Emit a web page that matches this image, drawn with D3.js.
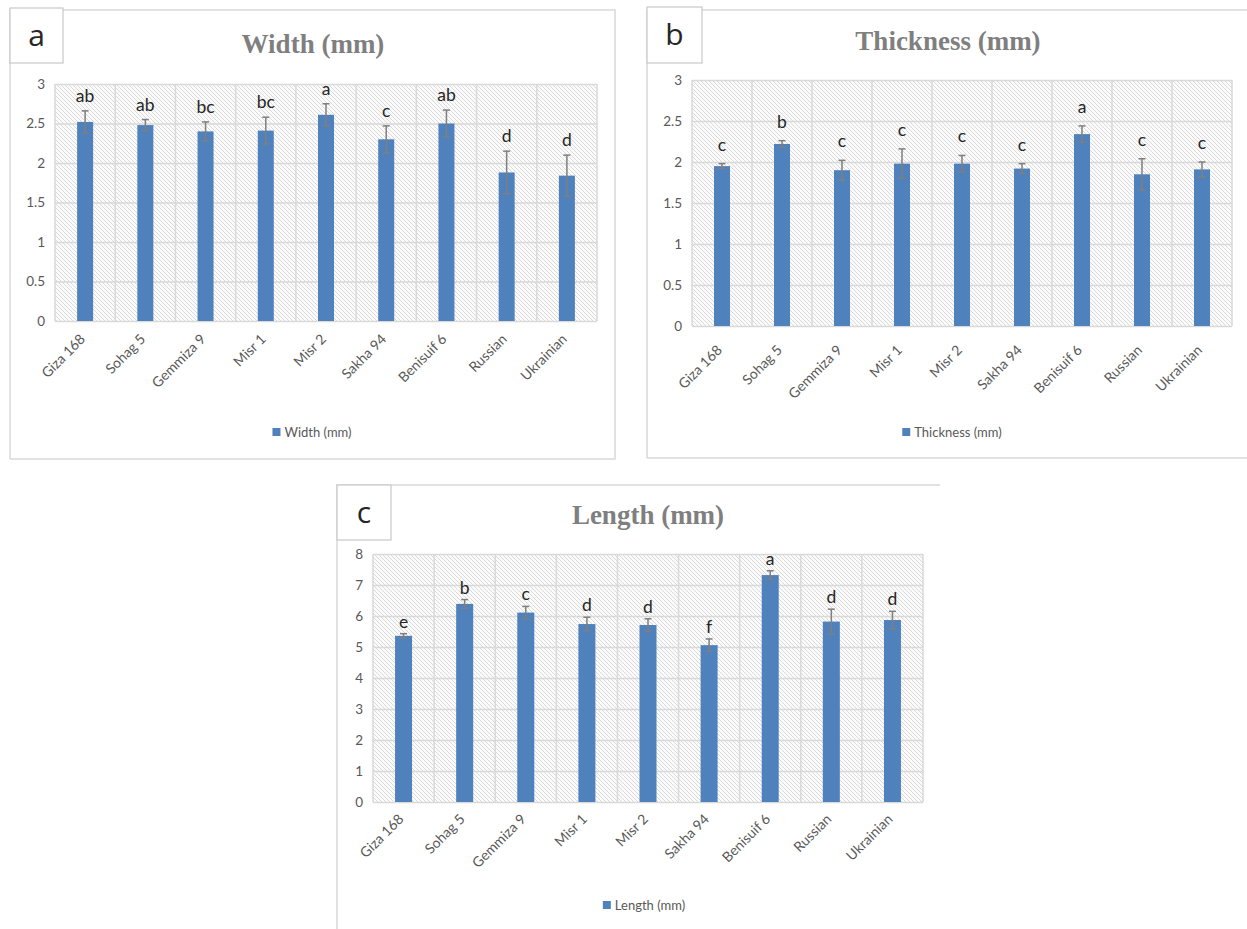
<!DOCTYPE html>
<html>
<head>
<meta charset="utf-8">
<script src="https://cdn.jsdelivr.net/npm/d3@7/dist/d3.min.js"></script>
<style>
  html, body { margin: 0; padding: 0; background: #ffffff; }
  svg { display: block; }
</style>
</head>
<body>
<svg id="chart" width="1247" height="929"></svg>
<script>
// Grain dimensions of nine wheat cultivars (mean ± error), with letter groupings
const categories = ["Giza 168", "Sohag 5", "Gemmiza 9", "Misr 1", "Misr 2", "Sakha 94", "Benisuif 6", "Russian", "Ukrainian"];

const widthMeans   = [2.52, 2.48, 2.40, 2.41, 2.61, 2.30, 2.50, 1.88, 1.84];
const widthErrors  = [0.14, 0.07, 0.12, 0.17, 0.14, 0.17, 0.17, 0.27, 0.26];
const widthLetters = ["ab", "ab", "bc", "bc", "a", "c", "ab", "d", "d"];

const thicknessMeans   = [1.95, 2.22, 1.90, 1.98, 1.98, 1.92, 2.34, 1.85, 1.91];
const thicknessErrors  = [0.03, 0.04, 0.12, 0.18, 0.10, 0.06, 0.10, 0.19, 0.09];
const thicknessLetters = ["c", "b", "c", "c", "c", "c", "a", "c", "c"];

const lengthMeans   = [5.36, 6.39, 6.11, 5.74, 5.71, 5.06, 7.32, 5.82, 5.87];
const lengthErrors  = [0.07, 0.14, 0.20, 0.22, 0.20, 0.20, 0.14, 0.40, 0.28];
const lengthLetters = ["e", "b", "c", "d", "d", "f", "a", "d", "d"];

const widthTicks     = [0, 0.5, 1, 1.5, 2, 2.5, 3];
const thicknessTicks = [0, 0.5, 1, 1.5, 2, 2.5, 3];
const lengthTicks    = [0, 1, 2, 3, 4, 5, 6, 7, 8];

const BAR = "#4f81bd";
const GRID = "#d9d9d9";
const AXIS_TEXT = "#595959";
const SANS = "Lato, 'Open Sans', sans-serif";
const SERIF = "'Liberation Serif', 'DejaVu Serif', serif";

const panels = [
  {
    tag: "a", title: "Width (mm)", means: widthMeans, errors: widthErrors, letters: widthLetters, ticks: widthTicks,
    frame: { x: 10, y: 10, w: 605, h: 449, right: true, bottom: true },
    tagBox: { x: 10, y: 8, w: 53, h: 55 },
    plot: { x0: 55, x1: 597, y0: 84, y1: 321 },
    titlePos: [313, 53], legendPos: [312, 437], letterGap: 15, labelDrop: 19
  },
  {
    tag: "b", title: "Thickness (mm)", means: thicknessMeans, errors: thicknessErrors, letters: thicknessLetters, ticks: thicknessTicks,
    frame: { x: 647, y: 10, w: 605, h: 448, right: false, bottom: true },
    tagBox: { x: 647, y: 7, w: 55, h: 56 },
    plot: { x0: 692, x1: 1232, y0: 80, y1: 326 },
    titlePos: [948, 50], legendPos: [952, 437], letterGap: 19, labelDrop: 25
  },
  {
    tag: "c", title: "Length (mm)", means: lengthMeans, errors: lengthErrors, letters: lengthLetters, ticks: lengthTicks,
    frame: { x: 337, y: 485, w: 603, h: 460, right: false, bottom: false },
    tagBox: { x: 337, y: 485, w: 54, h: 55 },
    plot: { x0: 373, x1: 923, y0: 554, y1: 802 },
    titlePos: [648, 524], legendPos: [644, 910], letterGap: 12, labelDrop: 18
  }
];

const svg = d3.select("#chart");
const defs = svg.append("defs");

// fine diagonal hatching used as the plot-area fill
const pat = defs.append("pattern")
  .attr("id", "hatch")
  .attr("patternUnits", "userSpaceOnUse")
  .attr("width", 4).attr("height", 4);
pat.append("rect").attr("width", 4).attr("height", 4).attr("fill", "#fbfbfb");
pat.append("path")
  .attr("d", "M-1,-1 L5,5 M-1,3 L1,5 M3,-1 L5,1")
  .attr("stroke", "#d2d2d2").attr("stroke-width", 0.8);

panels.forEach(p => {
  const g = svg.append("g");
  const f = p.frame;

  // chart frame
  const framePath = d3.path();
  framePath.moveTo(f.x, f.y + f.h);
  framePath.lineTo(f.x, f.y);
  framePath.lineTo(f.x + f.w, f.y);
  if (f.right) framePath.lineTo(f.x + f.w, f.y + f.h);
  if (f.bottom) {
    if (!f.right) framePath.moveTo(f.x + f.w, f.y + f.h);
    framePath.lineTo(f.x, f.y + f.h);
  }
  g.append("path").attr("d", framePath.toString())
    .attr("fill", "none").attr("stroke", "#d9d9d9").attr("stroke-width", 1.5);

  const x = d3.scaleBand().domain(categories).range([p.plot.x0, p.plot.x1]).padding(0);
  const yMax = d3.max(p.ticks);
  const y = d3.scaleLinear().domain([0, yMax]).range([p.plot.y1, p.plot.y0]);

  // plot area
  g.append("rect")
    .attr("x", p.plot.x0).attr("y", p.plot.y0)
    .attr("width", p.plot.x1 - p.plot.x0).attr("height", p.plot.y1 - p.plot.y0)
    .attr("fill", "url(#hatch)");

  // horizontal gridlines + y labels
  const yAxis = d3.axisLeft(y).tickValues(p.ticks).tickSize(-(p.plot.x1 - p.plot.x0)).tickPadding(10)
    .tickFormat(d3.format("~g"));
  const ya = g.append("g").attr("transform", `translate(${p.plot.x0},0)`).call(yAxis);
  ya.select(".domain").remove();
  ya.selectAll(".tick line").attr("stroke", GRID).attr("stroke-width", 1.5);
  ya.selectAll(".tick text").attr("fill", AXIS_TEXT).attr("font-family", SANS).attr("font-size", 13.5);

  // vertical gridlines at category boundaries
  const bounds = categories.map(c => x(c)).concat([p.plot.x1]);
  g.append("g").selectAll("line").data(bounds).join("line")
    .attr("x1", d => d).attr("x2", d => d)
    .attr("y1", p.plot.y0).attr("y2", p.plot.y1)
    .attr("stroke", GRID).attr("stroke-width", 1.5);

  const bw = Math.round(x.bandwidth() * 0.27);
  const rows = categories.map((c, i) => ({ c, m: p.means[i], e: p.errors[i], l: p.letters[i] }));

  // bars
  g.append("g").selectAll("rect").data(rows).join("rect")
    .attr("x", d => x(d.c) + x.bandwidth() / 2 - bw / 2)
    .attr("y", d => y(d.m))
    .attr("width", bw)
    .attr("height", d => y(0) - y(d.m))
    .attr("fill", BAR);

  // error bars
  const eb = g.append("g").attr("stroke", "#7f7f7f").attr("stroke-width", 1.5).attr("fill", "none");
  rows.forEach(d => {
    const cx = x(d.c) + x.bandwidth() / 2;
    const yt = y(d.m + d.e), yb = y(d.m - d.e);
    eb.append("line").attr("x1", cx).attr("x2", cx).attr("y1", yt).attr("y2", yb);
    eb.append("line").attr("x1", cx - 3.5).attr("x2", cx + 3.5).attr("y1", yt).attr("y2", yt);
    eb.append("line").attr("x1", cx - 3.5).attr("x2", cx + 3.5).attr("y1", yb).attr("y2", yb);
  });

  // significance letters
  g.append("g").selectAll("text").data(rows).join("text")
    .attr("x", d => x(d.c) + x.bandwidth() / 2)
    .attr("y", d => y(d.m + d.e) - p.letterGap + 6)
    .attr("text-anchor", "middle")
    .attr("font-family", SANS).attr("font-size", 17.5)
    .attr("fill", "#262626")
    .text(d => d.l);

  // rotated category labels
  g.append("g").selectAll("text").data(categories).join("text")
    .attr("transform", d => `translate(${x(d) + x.bandwidth() / 2 + 1},${p.plot.y1 + p.labelDrop}) rotate(-45)`)
    .attr("text-anchor", "end")
    .attr("font-family", SANS).attr("font-size", 14)
    .attr("fill", AXIS_TEXT)
    .text(d => d);

  // title
  g.append("text")
    .attr("x", p.titlePos[0]).attr("y", p.titlePos[1])
    .attr("text-anchor", "middle")
    .attr("font-family", SERIF).attr("font-weight", "bold").attr("font-size", 27)
    .attr("fill", "#7f7f7f")
    .text(p.title);

  // legend
  const lg = g.append("g");
  const lt = lg.append("text")
    .attr("y", p.legendPos[1])
    .attr("font-family", SANS).attr("font-size", 13)
    .attr("fill", AXIS_TEXT)
    .text(p.title);
  const tw = lt.node().getComputedTextLength();
  const total = 8 + 4 + tw;
  const lx = p.legendPos[0] - total / 2;
  lg.append("rect").attr("x", lx).attr("y", p.legendPos[1] - 9).attr("width", 8).attr("height", 8).attr("fill", BAR);
  lt.attr("x", lx + 12);

  // panel tag box
  const tb = p.tagBox;
  g.append("rect").attr("x", tb.x).attr("y", tb.y).attr("width", tb.w).attr("height", tb.h)
    .attr("fill", "#ffffff").attr("stroke", "#c8c8c8").attr("stroke-width", 1.2);
  g.append("text")
    .attr("x", tb.x + tb.w / 2).attr("y", tb.y + tb.h / 2 + 10)
    .attr("text-anchor", "middle")
    .attr("font-family", "'Open Sans', sans-serif").attr("font-size", 30)
    .attr("fill", "#262626")
    .text(p.tag);
});
</script>
</body>
</html>
